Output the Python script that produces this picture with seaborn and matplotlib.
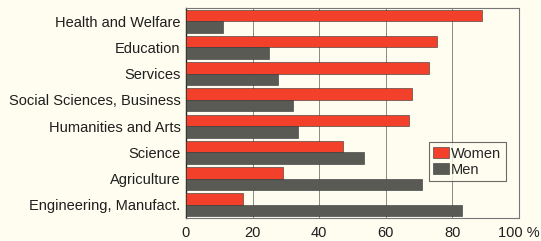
import pandas as pd
import seaborn as sns
import matplotlib.pyplot as plt

fields = ['Health and Welfare', 'Education', 'Services', 'Social Sciences, Business',
          'Humanities and Arts', 'Science', 'Agriculture', 'Engineering, Manufact.']
women = [89, 75.5, 73, 68, 67, 47, 29, 17]
men = [11, 25, 27.5, 32, 33.5, 53.5, 71, 83]
x_ticks = [0, 20, 40, 60, 80, 100]
x_labels = ['0', '20', '40', '60', '80', '100 %']

df = pd.DataFrame({
    'field': fields * 2,
    'value': women + men,
    'sex': ['Women'] * len(fields) + ['Men'] * len(fields),
})

sns.set_style('white')
plt.rcParams['font.family'] = ['Liberation Sans', 'DejaVu Sans']

bg = '#fffdf0'
fig = plt.figure(figsize=(5.41, 2.41), dpi=100, facecolor=bg)
ax = fig.add_axes([186 / 541, 1 - 218 / 241, (519 - 186) / 541, (218 - 8) / 241])
ax.set_facecolor(bg)

sns.barplot(data=df, y='field', x='value', hue='sex', orient='h',
            palette={'Women': '#f2402a', 'Men': '#5a5a55'}, saturation=1, width=0.88,
            edgecolor='#333333', linewidth=0.4, ax=ax, zorder=3)

ax.set_xlim(0, 100)
ax.set_xticks(x_ticks)
ax.set_xticklabels(x_labels, fontsize=10.5)
ax.set_xlabel('')
ax.set_ylabel('')
ax.grid(axis='x', color='#8a8a85', linewidth=0.7, zorder=0)
ax.tick_params(axis='both', length=0, colors='#1e1e1e')
ax.tick_params(axis='y', labelsize=10.5, pad=4)
ax.tick_params(axis='x', pad=6)
for s in ax.spines.values():
    s.set_color('#777777')
    s.set_linewidth(0.8)
ax.spines['left'].set_color('#222222')
ax.spines['left'].set_linewidth(1.0)

leg = ax.legend(loc='lower right', bbox_to_anchor=(0.982, 0.14), frameon=True,
                fancybox=False, fontsize=10.5, handlelength=1.1, handleheight=0.8,
                handletextpad=0.15, borderpad=0.3, labelspacing=0.15)
leg.get_frame().set_edgecolor('#444444')
leg.get_frame().set_facecolor(bg)
leg.get_frame().set_linewidth(0.8)

fig.savefig('out.png', dpi=100, facecolor=bg)
